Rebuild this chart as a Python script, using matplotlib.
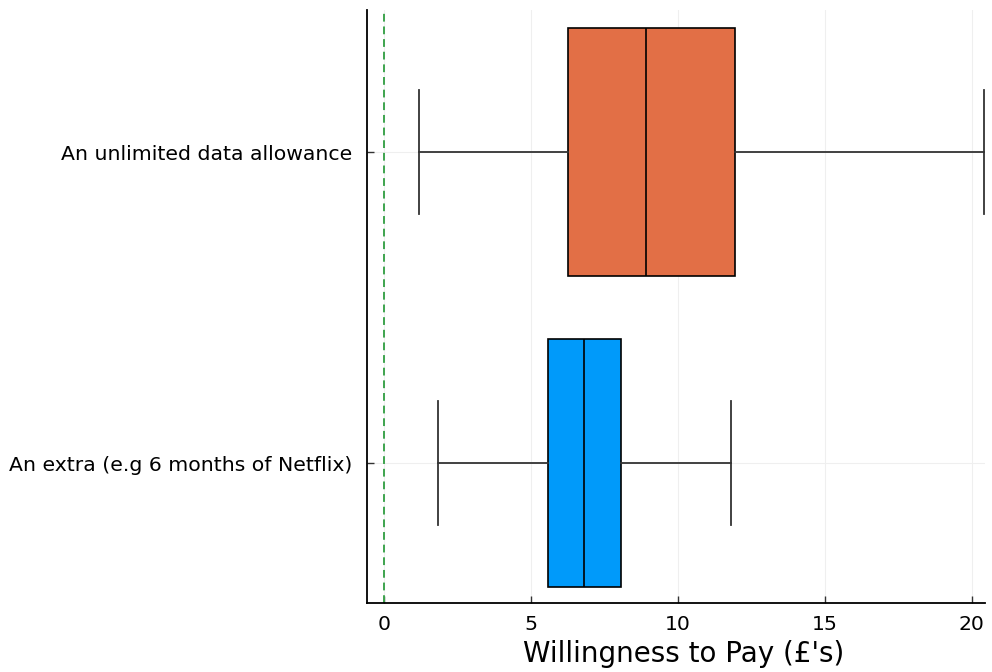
import matplotlib.pyplot as plt

plt.rcParams['font.family'] = ['DejaVu Sans']

# data (one box per category)
labels = ['An extra (e.g 6 months of Netflix)', 'An unlimited data allowance']
whislo = [1.85, 1.2]
q1 = [5.58, 6.27]
med = [6.8, 8.92]
q3 = [8.06, 11.95]
whishi = [11.8, 20.4]
colors = ['#009afa', '#e26f46']

fig = plt.figure(figsize=(9.92, 6.72), dpi=100)
ax = fig.add_axes([0.370, 0.1027, 0.623, 0.8825])

stats = []
for i in range(len(labels)):
    stats.append({'label': labels[i], 'whislo': whislo[i], 'q1': q1[i], 'med': med[i],
                  'q3': q3[i], 'whishi': whishi[i], 'fliers': []})

bp = ax.bxp(stats, positions=[1, 2], widths=0.8, vert=False, patch_artist=True,
            showfliers=False,
            boxprops=dict(edgecolor='black', linewidth=1.2),
            medianprops=dict(color='black', linewidth=1.2),
            whiskerprops=dict(color='#333333', linewidth=1.3),
            capprops=dict(color='#333333', linewidth=1.3), capwidths=0.4)
for patch, c in zip(bp['boxes'], colors):
    patch.set_facecolor(c)

ax.axvline(0, color='#3ea44e', linestyle='--', linewidth=1.4, dashes=(4, 2.5))

ax.set_xlim(-0.58, 20.45)
ax.set_ylim(0.55, 2.457)
ax.set_xticks([0, 5, 10, 15, 20])
ax.set_yticks([1, 2])
ax.set_yticklabels(labels)
ax.tick_params(direction='in', labelsize=14.7, length=5, width=1, color='#333333')
ax.tick_params(axis='y', pad=11)
ax.tick_params(axis='x', pad=9)
ax.set_xlabel("Willingness to Pay (£'s)", fontsize=20)
ax.xaxis.set_label_coords(0.513, -0.062)
ax.xaxis.label.set_va('top')
ax.grid(True, color='#efefef', linewidth=0.8)
ax.set_axisbelow(True)
ax.spines['top'].set_visible(False)
ax.spines['right'].set_visible(False)
ax.spines['left'].set_linewidth(1.3)
ax.spines['bottom'].set_linewidth(1.3)

fig.savefig('out.png', dpi=100)
